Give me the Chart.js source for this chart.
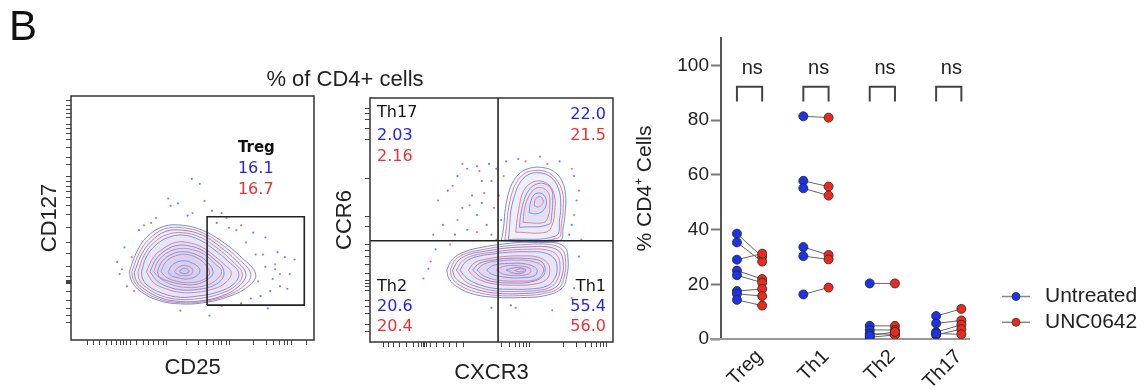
<!DOCTYPE html>
<html>
<head>
<meta charset="utf-8">
<script src="https://cdn.jsdelivr.net/npm/chart.js@4.4.1/dist/chart.umd.min.js"></script>
<style>
  html, body { margin: 0; padding: 0; background: #fff; }
  body { width: 1146px; height: 390px; position: relative; overflow: hidden; font-family: "Liberation Sans", Arial, sans-serif; }
  .box { position: absolute; top: 0; height: 390px; }
  #title { position: absolute; left: 245px; width: 200px; top: 68px; text-align: center; font-size: 22px; line-height: 22px; color: #222; }
</style>
</head>
<body>
<div class="box" style="left:0;width:330px"><canvas id="flowTreg"></canvas></div>
<div class="box" style="left:330px;width:300px"><canvas id="flowTh"></canvas></div>
<div class="box" style="left:630px;width:516px"><canvas id="dotPlot"></canvas></div>
<div id="title">% of CD4+ cells</div>
<script>
const FONT = '"Liberation Sans", Arial, sans-serif';
const NUMFONT = '"DejaVu Sans", sans-serif';
const BLUE = '#2323f0';
const RED = '#f03030';

// ---- summary plot: % of CD4+ cells per donor ----
const subsets = ["Treg", "Th1", "Th2", "Th17"];
const yTicks = [0, 20, 40, 60, 80, 100];
const untreated = [
    [38.5, 35.3, 29.0, 25.0, 23.3, 17.5, 16.5, 14.3],
    [81.4, 57.8, 55.1, 33.6, 30.3, 16.3],
    [20.3, 4.8, 3.3, 2.0, 0.6, 1.2],
    [8.4, 5.7, 2.5, 1.5, 2.0]
];
const unc0642 = [
    [30.0, 28.3, 31.2, 21.9, 20.6, 18.3, 15.7, 12.2],
    [80.9, 55.7, 52.4, 30.7, 29.1, 18.8],
    [20.3, 4.8, 3.3, 1.7, 1.5, 2.6],
    [11.0, 6.8, 5.2, 3.6, 1.7]
];
const sigLabels = ["ns", "ns", "ns", "ns"];
const seriesNames = ["Untreated", "UNC0642"];

// ---- flow plots (axis units 0-100) ----
const tregLabels = ["Treg", "16.1", "16.7"];
const quadNames = ["Th17", "", "Th2", "Th1"];
const quadUntreated = ["2.03", "22.0", "20.6", "55.4"];
const quadUnc = ["2.16", "21.5", "20.4", "56.0"];

// tick positions of the biexponential axes
const tregXTicks = [6.7, 9.2, 11.9, 14.7, 16.7, 18.8, 20.2, 21.5, 22.9, 24.3, 27.0, 29.8, 31.8, 33.9, 35.9, 38.0, 39.1, 47.6, 52.4, 55.8, 58.6, 60.6, 62.0, 64.1, 65.4, 75.0, 80.5, 83.3, 86.0, 87.7, 89.0, 90.8, 97.0];
const tregYTicks = [98, 96, 94.5, 93, 91, 88.5, 86.5, 84.5, 82, 79, 75, 72, 67, 65, 63, 61, 58.5, 55, 51.5, 46, 40, 35.5, 30, 26, 24.5, 24, 23.5, 23, 20, 16, 13, 10, 7];
const thXTicks = [5.5, 7.5, 9.6, 12.3, 15.1, 17.8, 19.9, 21.3, 21.9, 22.6, 23.3, 24.7, 27.4, 30.2, 32.9, 35.7, 38.4, 54.2, 57.6, 59.7, 61.7, 63.1, 64.5, 65.8, 79.6, 85.1, 88.5, 91.2, 93.3, 94.9, 96.0, 97.4];
const thYTicks = [95.8, 93.7, 91.0, 87.6, 82.8, 67.1, 51.4, 47.3, 39.8, 37.7, 35.0, 31.6, 28.2, 25.4, 24.1, 22.7, 21.3, 17.2, 14.5, 11.8, 7.0, 4.2];

const tregGate = [56, 96, 14.3, 50.5];   // xmin, xmax, ymin, ymax
const quadCut = [52.7, 41.5];            // CXCR3, CCR6

// contour rings, outer to inner, blue / red alternating
const tregRings = [
    [[24,28],[27,36],[31,42],[38,46.5],[46,47],[54,45],[62,40.5],[70,34],[76,27],[73,22],[64,17.5],[54,15.2],[45,14.8],[36,16.2],[28.5,20],[25,24]],
    [[25,27.8],[28,35.5],[32,41.2],[38.5,45.5],[46,46],[54,44],[61.5,39.5],[69,33.2],[74,27],[71,22],[63,17.8],[53.5,15.6],[45,15.3],[36.5,16.7],[29.2,20.5],[26,24]],
    [[26,27.5],[29,35],[33,40.5],[39,44.5],[46,45],[54,43],[61,38.5],[68,32.5],[72,27],[69,22],[62,18],[53,16],[45,15.8],[37,17.2],[30,21],[27,24]],
    [[27.5,27.8],[30,34.5],[34,39.8],[39.5,43.2],[46,44],[53.5,42],[60,37.8],[66.5,32.2],[70.5,27.2],[68,22.5],[61,18.8],[52.5,17],[45,16.6],[37.5,18],[31,21.5],[28.2,24.5]],
    [[29,28],[31,34],[35,39],[40,42],[46,43],[53,41],[59,37],[65,32],[69,27.5],[67,23],[60,19.5],[52,18],[45,17.5],[38,19],[32,22],[29.5,25]],
    [[31,28],[34,34],[38,37.5],[43,40],[48,40],[54,38],[59,34.5],[63,31],[66,27.5],[63,23],[57,20.5],[51,19.5],[45,19.5],[39,21],[34,23.5]],
    [[32.5,28],[35,33.2],[39,36.8],[44,38.8],[49,38.5],[54.5,36.5],[59,33],[62.5,29.5],[62.5,25.5],[58.5,22.2],[52.5,20.8],[46,20.5],[40,21.8],[35.5,24.2]],
    [[34,28],[36,32.5],[40,36],[45,37.5],[50,37],[55,35],[59,31.5],[62,28],[59,24],[54,22],[48,21.5],[42,22.5],[37,25]],
    [[35.5,28],[37.5,32.2],[41.5,35.2],[46.5,36.2],[51.5,35],[55.5,32.5],[58.5,28],[56.5,25],[51.5,22.8],[46,22.8],[40.5,24],[36.5,25.8]],
    [[37,28],[39,32],[43,34.5],[48,35],[53,33],[56,30],[57,27],[54,24.5],[49,23.5],[44,24],[39.5,25.5]],
    [[40,28],[42,31],[46,32.5],[50,31.5],[53,29],[52,26.5],[48,25],[44,25.5],[41,26.5]],
    [[42.5,28],[44.5,30],[47.5,30.5],[50,29],[49.5,27],[47,26.3],[44,26.8]],
    [[44.5,28],[46,29.3],[48,29],[48.5,27.8],[46.5,27.2]]
];
const thLowRings = [
    [[31.6,29.5],[34,34],[39,37],[46,38.8],[55,40.2],[65,41],[74,41],[80,39],[81.5,34],[81,27],[79,22],[72,19],[62,18.2],[52,18.3],[43,19.5],[36,22.5],[32.5,26]],
    [[33,29.5],[35.2,33.8],[40,36.5],[47,38],[55.5,39.3],[65,40],[73.5,40],[79,38],[80.5,33.2],[80,27],[77.8,22.2],[71,19.8],[61.5,19],[52,19.1],[43.5,20.5],[37,23.2],[33.8,26.2]],
    [[34,29.5],[36.5,33.5],[41,36],[48,37.3],[56,38.5],[65,39],[73,39],[78,37],[79.5,32.5],[79,27],[76.5,22.5],[70,20.5],[61,19.8],[52,20],[44,21.5],[38,24],[35,26.5]],
    [[35.5,29.5],[38,33.2],[42.5,35.5],[49,36.6],[56.5,37.6],[65,38],[72.5,37.8],[77,35.5],[78.2,31.2],[77.5,26.5],[74.8,22.8],[68.5,21.1],[60,20.7],[51.5,21],[44.5,22.5],[39,25]],
    [[37,29.5],[39.5,33],[44,35],[50,36],[57,36.8],[65,37],[72,36.5],[76,34],[77,30],[76,26],[73,23],[67,21.8],[59,21.6],[51,22],[45,23.5],[40,26]],
    [[40.5,29.5],[43,32.5],[48,34],[55,35],[62,35.3],[69,34.8],[73,32.5],[74,29],[72.5,25.5],[67,23.6],[59,23.3],[51,23.8],[45,25.5],[42,27.5]],
    [[42.2,29.5],[45,32.2],[50.5,33.6],[57.5,34.3],[64.5,34.2],[70,33.3],[72,30.5],[71,26.8],[66,24.6],[59,24.2],[51.5,24.6],[46,26.3]],
    [[44,29.5],[47,32],[53,33.2],[60,33.6],[67,33],[71,31],[71,28],[68,25.5],[61,25],[53,25.3],[47,27]],
    [[48,29.5],[51,31.5],[57,32.2],[64,32],[68.5,30],[68,27.3],[63,26.4],[56,26.5],[50,27.8]],
    [[52,29.5],[55,31],[61,31.3],[66,30],[65.5,28],[61,27.3],[55,27.8]],
    [[56,29.5],[60,30.5],[64,29.8],[63,28.3],[59,28.2]],
    [[59.5,29.3],[62,30],[63.5,29.3],[61.5,28.7]]
];
const thHighRings = [
    [[54,41.5],[55,47],[55.5,53],[56.5,59],[58.5,65],[62,69.5],[66,71.3],[71,71.5],[75.5,70],[79,66],[80.5,60],[80.3,53],[79.5,47],[78,41.5]],
    [[55.5,41.8],[56.2,47.5],[56.8,53.5],[58,59.5],[60,65],[63.5,69],[68,70.3],[72.8,69.7],[76.5,66.8],[79.2,61.5],[79.5,55],[78.8,48.5],[77.2,42.5]],
    [[57,42],[57.5,48],[58,54],[59.5,60],[61.5,65],[65,68.5],[70,69.3],[74.5,67.5],[77.5,63],[78.5,57],[78,50],[76.5,43.5]],
    [[60,45],[60.5,50],[61.5,56],[63,61.5],[66,65],[70,66],[74,64],[76,59.5],[76,53.5],[75,48],[72.5,45]],
    [[61.5,47],[62,52],[63.2,57.5],[65.2,62],[68.2,64.6],[72,64.8],[74.8,62.2],[75.2,57.8],[74.8,52.5],[73.6,48.2]],
    [[63,49],[63.5,54],[65,59],[67.5,62.5],[70.5,63.3],[73.5,61],[74,56.5],[73.5,52],[71.5,49]],
    [[65.5,53],[66,57],[67.5,60.3],[70.2,61],[72.3,59],[72.3,55.5],[70.5,53.3],[68,52.5]],
    [[67.5,56],[68.2,58.8],[70.2,59.5],[71.3,57.8],[70.5,56],[69,55.3]]
];

// single events outside the contours
const tregDotsBlue = [[49.7,66],[53,64],[41,55],[44,56],[58,53],[62,52],[48,51],[35,50],[28,45],[22,38],[19,32],[20,27],[23,22],[60,48],[65,46],[75,44],[80,42],[85,36],[88,34],[80,30],[83,25],[86,22],[90,27],[78,18],[74,17],[70,15],[92,33],[82,20],[76,35],[84,29],[89,21],[57,10],[81,13]];
const tregDotsRed = [[40,58],[55,57],[33,48],[50,52],[64,50],[70,47],[72,40],[79,35],[84,31],[25,34],[21,29],[26,20],[62,14],[77,24],[86,27],[68,45],[30,47],[45,12]];
const thDotsBlue = [[32,62],[36,68],[40,71],[44,72],[49,73],[52,71],[46,66],[42,60],[38,55],[44,52],[48,48],[50,44],[53,60],[56,74],[61,75],[70,76],[78,74],[84,68],[85,58],[83,48],[82,44],[30,48],[35,44],[40,46],[54,50],[46,57],[27,38],[24,30],[86,35],[84,22],[58,15],[50,14]];
const thDotsRed = [[28,58],[34,64],[38,73],[45,70],[50,66],[47,61],[41,56],[36,50],[44,45],[51,55],[55,68],[64,74],[73,73],[83,71],[86,62],[84,52],[87,42],[26,44],[33,40],[52,42],[25,33],[22,26],[60,14],[83,18],[75,13]];


// helpers
const pts = a => a.map(([x, y]) => ({ x, y }));
const closed = a => pts(a.concat([a[0]]));

function ringSets(rings) {
    return rings.map((r, i) => ({
        data: closed(r),
        showLine: true,
        tension: 0.4,
        pointRadius: 0,
        borderWidth: 1,
        borderColor: i % 2 === 0 ? 'rgba(70,120,220,0.8)' : 'rgba(232,95,105,0.8)',
        fill: 'shape',
        backgroundColor: 'rgba(175,160,220,0.06)',
        order: 1
    }));
}

function dotSet(list, color) {
    return { data: pts(list), pointRadius: 1.1, pointBorderWidth: 0, backgroundColor: color, order: 2 };
}

function edgeLine(list) {
    return { data: pts(list), showLine: true, tension: 0, pointRadius: 0, borderWidth: 1.6, borderColor: '#222', order: 0 };
}

function flowAxis(ticksList, size, titleText, titlePad, isX) {
    return {
        type: 'linear', min: 0, max: 100,
        afterBuildTicks: s => { s.ticks = ticksList.map(v => ({ value: v })); },
        afterFit: s => { if (isX) s.height = size; else s.width = size; },
        grid: { drawOnChartArea: false, drawTicks: true, tickLength: 5, tickColor: '#444', tickWidth: 1 },
        border: { display: false },
        ticks: { display: false },
        title: { display: true, text: titleText, color: '#222', font: { family: FONT, size: 22 }, padding: titlePad }
    };
}

function txt(ctx, s, x, y, color, align, font) {
    ctx.fillStyle = color;
    ctx.textAlign = align;
    ctx.textBaseline = 'middle';
    ctx.font = font;
    ctx.fillText(s, x, y);
}

const frame = {
    id: 'frame',
    afterDatasetsDraw(chart) {
        const a = chart.chartArea, ctx = chart.ctx;
        ctx.save();
        ctx.strokeStyle = '#333';
        ctx.lineWidth = 1.5;
        ctx.strokeRect(a.left, a.top, a.right - a.left, a.bottom - a.top);
        ctx.restore();
    }
};

const baseOpts = {
    responsive: true,
    maintainAspectRatio: false,
    animation: false,
    events: [],
    plugins: { legend: { display: false }, tooltip: { enabled: false } }
};

// ---- Treg plot ----
new Chart(document.getElementById('flowTreg'), {
    type: 'scatter',
    data: {
        datasets: [
            edgeLine([[tregGate[0], tregGate[2]], [tregGate[1], tregGate[2]], [tregGate[1], tregGate[3]], [tregGate[0], tregGate[3]], [tregGate[0], tregGate[2]]]),
            ...ringSets(tregRings),
            dotSet(tregDotsBlue, 'rgba(60,110,230,0.8)'),
            dotSet(tregDotsRed, 'rgba(235,80,80,0.8)')
        ]
    },
    options: {
        ...baseOpts,
        layout: { padding: { left: 0, top: 96, right: 16, bottom: 0 } },
        scales: {
            x: flowAxis(tregXTicks, 50, 'CD25', { top: 0, bottom: 8.8 }, true),
            y: flowAxis(tregYTicks, 71, 'CD127', { top: 36.8, bottom: 0 }, false)
        }
    },
    plugins: [frame, {
        id: 'tregText',
        afterDraw(chart) {
            const { ctx, scales: { x, y } } = chart;
            ctx.save();
            txt(ctx, 'B', 9, 28, '#111', 'left', '42px ' + FONT);
            const lx = x.getPixelForValue(68.7);
            txt(ctx, tregLabels[0], lx, y.getPixelForValue(78.5), '#111', 'left', 'bold 15px ' + NUMFONT);
            txt(ctx, tregLabels[1], lx, y.getPixelForValue(70.3), BLUE, 'left', '16px ' + NUMFONT);
            txt(ctx, tregLabels[2], lx, y.getPixelForValue(61.5), RED, 'left', '16px ' + NUMFONT);
            ctx.restore();
        }
    }]
});

// ---- Th subsets plot ----
new Chart(document.getElementById('flowTh'), {
    type: 'scatter',
    data: {
        datasets: [
            edgeLine([[quadCut[0], 0], [quadCut[0], 100]]),
            edgeLine([[0, quadCut[1]], [100, quadCut[1]]]),
            ...ringSets(thLowRings),
            ...ringSets(thHighRings),
            dotSet(thDotsBlue, 'rgba(60,110,230,0.8)'),
            dotSet(thDotsRed, 'rgba(235,80,80,0.8)')
        ]
    },
    options: {
        ...baseOpts,
        layout: { padding: { left: 0, top: 98, right: 17, bottom: 0 } },
        scales: {
            x: flowAxis(thXTicks, 48, 'CXCR3', { top: 0, bottom: 3.8 }, true),
            y: flowAxis(thYTicks, 40, 'CCR6', { top: 1.8, bottom: 0 }, false)
        }
    },
    plugins: [frame, {
        id: 'thText',
        afterDraw(chart) {
            const { ctx, scales: { x, y } } = chart;
            const f = '16px ' + NUMFONT;
            const L = x.getPixelForValue(2.9), R = x.getPixelForValue(97.1);
            ctx.save();
            txt(ctx, quadNames[0], L, y.getPixelForValue(93.9), '#111', 'left', f);
            txt(ctx, quadUntreated[0], L, y.getPixelForValue(84.4), BLUE, 'left', f);
            txt(ctx, quadUnc[0], L, y.getPixelForValue(75.8), RED, 'left', f);
            txt(ctx, quadUntreated[1], R, y.getPixelForValue(93.0), BLUE, 'right', f);
            txt(ctx, quadUnc[1], R, y.getPixelForValue(84.4), RED, 'right', f);
            txt(ctx, quadNames[2], L, y.getPixelForValue(22.5), '#111', 'left', f);
            txt(ctx, quadUntreated[2], L, y.getPixelForValue(14.3), BLUE, 'left', f);
            txt(ctx, quadUnc[2], L, y.getPixelForValue(6.1), RED, 'left', f);
            txt(ctx, quadNames[3], R, y.getPixelForValue(22.5), '#111', 'right', f);
            txt(ctx, quadUntreated[3], R, y.getPixelForValue(14.3), BLUE, 'right', f);
            txt(ctx, quadUnc[3], R, y.getPixelForValue(6.1), RED, 'right', f);
            ctx.restore();
        }
    }]
});

// ---- paired dot plot ----
const pairOffset = 0.19;
const labelShift = 0.15;
const dotSets = [
    {
        label: seriesNames[0],
        data: untreated.flatMap((vals, c) => vals.map(v => ({ x: c - pairOffset, y: v }))),
        pointRadius: 4.5, backgroundColor: '#1c34e8', borderColor: '#222', borderWidth: 0.8, order: 0
    },
    {
        label: seriesNames[1],
        data: unc0642.flatMap((vals, c) => vals.map(v => ({ x: c + pairOffset, y: v }))),
        pointRadius: 4.5, backgroundColor: '#ec2a1c', borderColor: '#222', borderWidth: 0.8, order: 0
    }
];
const pairSets = [];
untreated.forEach((vals, c) => {
    vals.forEach((v, i) => {
        pairSets.push({
            data: [{ x: c - pairOffset, y: v }, { x: c + pairOffset, y: unc0642[c][i] }],
            showLine: true, pointRadius: 0, borderWidth: 1, borderColor: '#666', order: 1
        });
    });
});
const bracketSets = subsets.map((_, c) => ({
    data: [{ x: c - pairOffset, y: 86.8 }, { x: c - pairOffset, y: 92.2 }, { x: c + pairOffset, y: 92.2 }, { x: c + pairOffset, y: 86.8 }],
    showLine: true, pointRadius: 0, borderWidth: 2, borderColor: '#444', order: 2
}));

new Chart(document.getElementById('dotPlot'), {
    type: 'scatter',
    data: { datasets: [...dotSets, ...pairSets, ...bracketSets] },
    options: {
        ...baseOpts,
        layout: { padding: { left: 0, top: 38, right: 176, bottom: 0 } },
        scales: {
            x: {
                type: 'linear', min: -0.43, max: 3.32,
                afterBuildTicks: s => { s.ticks = subsets.map((_, i) => ({ value: i + labelShift })); },
                afterFit: s => { s.height = 51; },
                grid: { drawOnChartArea: false, drawTicks: false },
                border: { display: false },
                ticks: {
                    autoSkip: false, minRotation: 45, maxRotation: 45, padding: 6,
                    color: '#222', font: { family: FONT, size: 20 },
                    callback: (v, i) => subsets[i]
                }
            },
            y: {
                min: 0, max: 110,
                afterBuildTicks: s => { s.ticks = yTicks.map(v => ({ value: v })); },
                afterFit: s => { s.width = 91; },
                grid: { drawOnChartArea: false, drawTicks: true, tickLength: 10, tickColor: '#777', tickWidth: 2 },
                border: { color: '#555', width: 2 },
                ticks: { padding: 2, color: '#222', font: { family: FONT, size: 19 } },
                title: { display: true, text: '% CD4\u207A Cells', color: '#222', font: { family: FONT, size: 21 }, padding: { top: 2.4, bottom: 0 } }
            }
        }
    },
    plugins: [{
        id: 'dotExtras',
        beforeDatasetsDraw(chart) {
            const { ctx, chartArea: a } = chart;
            ctx.save();
            ctx.strokeStyle = '#999';
            ctx.lineWidth = 2;
            ctx.beginPath();
            ctx.moveTo(a.left - 11, a.bottom);
            ctx.lineTo(a.right, a.bottom);
            ctx.stroke();
            ctx.restore();
        },
        afterDraw(chart) {
            const { ctx, scales: { x, y } } = chart;
            ctx.save();
            sigLabels.forEach((s, i) => txt(ctx, s, x.getPixelForValue(i + 0.04), y.getPixelForValue(99), '#222', 'center', '20px ' + FONT));
            // legend
            const cols = ['#1c34e8', '#ec2a1c'];
            [296.5, 322.3].forEach((ly, i) => {
                ctx.strokeStyle = '#888';
                ctx.lineWidth = 1.5;
                ctx.beginPath();
                ctx.moveTo(372, ly);
                ctx.lineTo(400, ly);
                ctx.stroke();
                ctx.beginPath();
                ctx.arc(386, ly, 4, 0, Math.PI * 2);
                ctx.fillStyle = cols[i];
                ctx.fill();
                ctx.strokeStyle = '#333';
                ctx.lineWidth = 0.8;
                ctx.stroke();
                txt(ctx, seriesNames[i], 415, ly, '#222', 'left', '21px ' + FONT);
            });
            ctx.restore();
        }
    }]
});
</script>
</body>
</html>
